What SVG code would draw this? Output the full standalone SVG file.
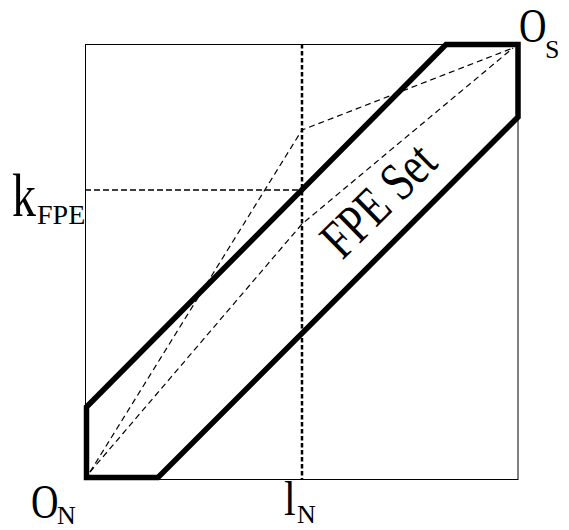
<svg xmlns="http://www.w3.org/2000/svg" width="569" height="530" viewBox="0 0 569 530">
<style>
.lbl{font-family:"Liberation Serif","Times New Roman",serif;fill:#000}
.thin{fill:none;stroke:#000;stroke-width:1}
.dash{fill:none;stroke:#000;stroke-width:1.2;stroke-dasharray:6 4}
</style>
<rect width="569" height="530" fill="#fff"/>
<g id="frame">
<rect class="thin" x="85.5" y="44.5" width="432.5" height="435"/>
</g>
<g id="connectors">
<line x1="302" y1="44" x2="302" y2="480" stroke="#000" stroke-width="2.5" stroke-dasharray="4.5 2.5"/>
<line x1="85" y1="190" x2="302" y2="190" stroke="#000" stroke-width="1.5" stroke-dasharray="6 3"/>
<polyline class="dash" points="90,472 302,130 513,48"/>
<polyline class="dash" points="90,472 302,224 513,48"/>
</g>
<g id="fpe-set">
<polygon points="86.5,477.5 86.5,407 446,44.5 518,44.5 518,117 158,477.5" fill="none" stroke="#000" stroke-width="5.5" stroke-linejoin="miter"/>
<text class="lbl" font-size="42" text-anchor="middle" transform="translate(391,213) rotate(-44.5) scale(1,1.3)">FPE Set</text>
</g>
<g id="label-on">
<text class="lbl" font-size="38" transform="translate(31,518) scale(1,1.28)">O</text>
<text class="lbl" font-size="26" x="57" y="524">N</text>
</g>
<g id="label-os">
<text class="lbl" font-size="38" transform="translate(519,42) scale(1,1.28)">O</text>
<text class="lbl" font-size="26" x="545" y="58">S</text>
</g>
<g id="label-k">
<text class="lbl" font-size="48" transform="translate(12,216) scale(1,1.27)">k</text>
<text class="lbl" font-size="28" x="37" y="224">FPE</text>
</g>
<g id="label-l">
<text class="lbl" font-size="42" transform="translate(284,515) scale(1,1.15)">l</text>
<text class="lbl" font-size="26" x="297" y="523">N</text>
</g>
</svg>
